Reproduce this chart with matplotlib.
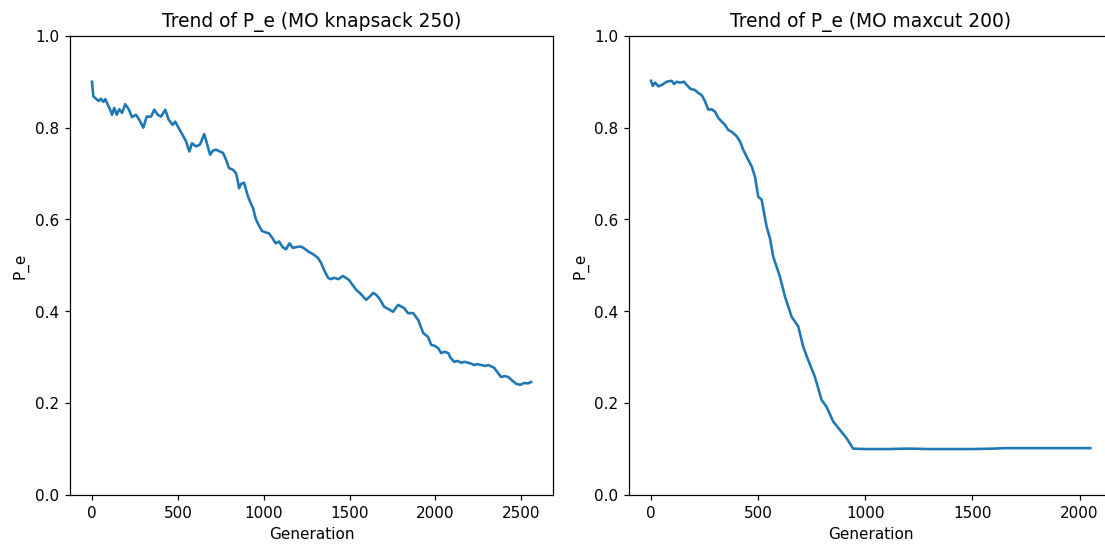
import matplotlib
matplotlib.use("Agg")
import matplotlib.pyplot as plt

# Left panel: MO knapsack 250
knap_gen = [0, 8, 23, 39, 52, 66, 78, 91, 105, 117, 130, 144, 159, 175, 194, 214, 233, 256, 276, 299,
            319, 344, 363, 383, 402, 427, 447, 470, 485, 505, 528, 548, 567, 583, 606, 629, 654, 670,
            688, 705, 723, 745, 763, 781, 798, 822, 840, 850, 857, 870, 886, 897, 909, 925, 938, 955,
            975, 990, 1010, 1030, 1050, 1070, 1090, 1110, 1130, 1150, 1170, 1190, 1218, 1240, 1265,
            1290, 1317, 1335, 1352, 1375, 1392, 1410, 1435, 1462, 1498, 1509, 1527, 1538, 1560, 1580,
            1597, 1620, 1638, 1655, 1672, 1702, 1730, 1754, 1783, 1818, 1841, 1871, 1900, 1929, 1958,
            1976, 1995, 2016, 2034, 2055, 2075, 2090, 2110, 2130, 2150, 2170, 2191, 2210, 2226, 2245,
            2267, 2290, 2308, 2325, 2343, 2360, 2383, 2405, 2424, 2445, 2471, 2495, 2518, 2540, 2558]
knap_pe = [0.900, 0.868, 0.863, 0.858, 0.863, 0.856, 0.862, 0.851, 0.840, 0.828, 0.843, 0.828, 0.840,
           0.832, 0.851, 0.840, 0.823, 0.828, 0.817, 0.800, 0.824, 0.824, 0.839, 0.828, 0.824, 0.839,
           0.817, 0.806, 0.813, 0.799, 0.784, 0.770, 0.748, 0.766, 0.759, 0.763, 0.786, 0.765, 0.741,
           0.750, 0.752, 0.748, 0.745, 0.730, 0.712, 0.708, 0.700, 0.682, 0.668, 0.678, 0.680, 0.665,
           0.650, 0.635, 0.625, 0.600, 0.585, 0.575, 0.572, 0.570, 0.560, 0.548, 0.552, 0.540, 0.535,
           0.548, 0.538, 0.540, 0.541, 0.536, 0.529, 0.524, 0.516, 0.505, 0.490, 0.473, 0.470, 0.473,
           0.470, 0.477, 0.468, 0.462, 0.453, 0.447, 0.440, 0.432, 0.425, 0.433, 0.440, 0.436, 0.429,
           0.410, 0.404, 0.399, 0.414, 0.407, 0.396, 0.396, 0.381, 0.353, 0.344, 0.327, 0.325, 0.320,
           0.309, 0.312, 0.309, 0.298, 0.290, 0.292, 0.288, 0.290, 0.288, 0.286, 0.283, 0.285, 0.283,
           0.281, 0.283, 0.280, 0.277, 0.268, 0.257, 0.259, 0.257, 0.250, 0.242, 0.240, 0.244, 0.243,
           0.246]

# Right panel: MO maxcut 200
maxc_gen = [0, 8, 19, 34, 50, 73, 96, 107, 120, 135, 154, 166, 185, 205, 221, 236, 252, 267, 283, 298,
            314, 330, 345, 360, 376, 400, 415, 430, 449, 470, 485, 500, 516, 539, 555, 570, 601, 625,
            656, 687, 710, 733, 764, 796, 819, 850, 881, 912, 943, 1000, 1100, 1200, 1300, 1400, 1500,
            1600, 1650, 1700, 1800, 1900, 2000, 2050]
maxc_pe = [0.902, 0.891, 0.898, 0.890, 0.893, 0.900, 0.902, 0.895, 0.900, 0.898, 0.900, 0.893, 0.884,
           0.882, 0.875, 0.871, 0.857, 0.839, 0.840, 0.835, 0.821, 0.813, 0.806, 0.795, 0.791, 0.781,
           0.770, 0.752, 0.734, 0.715, 0.693, 0.650, 0.643, 0.585, 0.559, 0.519, 0.476, 0.432, 0.388,
           0.367, 0.323, 0.294, 0.258, 0.207, 0.192, 0.160, 0.142, 0.124, 0.101, 0.100, 0.100, 0.101,
           0.100, 0.100, 0.100, 0.101, 0.102, 0.102, 0.102, 0.102, 0.102, 0.102]

titles = ["Trend of P_e (MO knapsack 250)", "Trend of P_e (MO maxcut 200)"]
xlabel = "Generation"
ylabel = "P_e"

W, H = 1105, 544
dpi = 110
fig = plt.figure(figsize=(W / dpi + 0.002, H / dpi + 0.002), dpi=dpi)

ax1 = fig.add_axes([70 / W, 49 / H, 483 / W, 459 / H])
ax2 = fig.add_axes([629 / W, 49 / H, 483 / W, 459 / H])

for ax, g, v, t in [(ax1, knap_gen, knap_pe, titles[0]), (ax2, maxc_gen, maxc_pe, titles[1])]:
    ax.plot(g, v, color="#1f77b4", linewidth=1.7)
    ax.set_ylim(0, 1.0)
    ax.set_title(t, fontsize=12.2)
    ax.set_xlabel(xlabel)
    ax.set_ylabel(ylabel)

fig.savefig("out.png", dpi=dpi)
